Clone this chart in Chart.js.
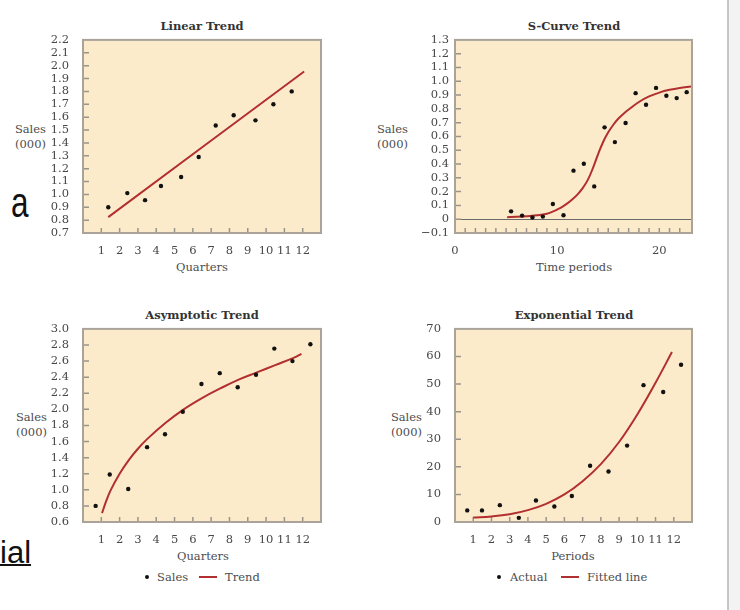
<!DOCTYPE html>
<html>
<head>
<meta charset="utf-8">
<script src="https://cdn.jsdelivr.net/npm/chart.js@4.4.1/dist/chart.umd.min.js"></script>
<style>
  body { margin: 0; background: #fff; }
  #page { position: relative; width: 740px; height: 610px; overflow: hidden; font-family: 'DejaVu Serif', serif; }
  #page div, #page span { position: absolute; white-space: nowrap; }
  canvas { position: absolute; }
  .title { font-weight: bold; font-size: 11.5px; color: #333; width: 200px; text-align: center; line-height: 14px; }
  .axis { font-size: 11.5px; color: #4d4d4d; width: 200px; text-align: center; line-height: 14px; }
  .ylab { font-size: 11.5px; color: #4d4d4d; width: 60px; text-align: right; line-height: 15px; }
  .leg { font-size: 11.5px; color: #4d4d4d; line-height: 14px; top: 570px; }
  .dot { width: 4px; height: 4px; border-radius: 2px; background: #111; top: 575px; }
  .swatch { width: 18px; height: 2px; background: #b22f2f; top: 576px; }
</style>
</head>
<body>
<div id="page">
  <div style="left:729px;top:0;width:11px;height:610px;background:#f3f3f3"></div>
  <div style="left:727px;top:0;width:2px;height:610px;background:#c6c6c6"></div>

  <div style="left:11px;top:182px;font-family:'Liberation Sans',sans-serif;font-size:42px;line-height:42px;color:#111;transform:scaleX(0.75);transform-origin:left top">a</div>
  <div style="left:0;top:537px;font-family:'Liberation Sans',sans-serif;font-size:31px;line-height:31px;color:#111;text-decoration:underline;text-decoration-thickness:2px">ial</div>

  <div class="title" style="left:102px;top:19px">Linear Trend</div>
  <div class="title" style="left:474px;top:19px">S-Curve Trend</div>
  <div class="title" style="left:102px;top:308px">Asymptotic Trend</div>
  <div class="title" style="left:474px;top:308px">Exponential Trend</div>

  <div class="ylab" style="left:-14px;top:122px">Sales<br>(000)</div>
  <div class="ylab" style="left:348px;top:122px">Sales<br>(000)</div>
  <div class="ylab" style="left:-13px;top:410px">Sales<br>(000)</div>
  <div class="ylab" style="left:362px;top:410px">Sales<br>(000)</div>

  <div class="axis" style="left:102px;top:260px">Quarters</div>
  <div class="axis" style="left:474px;top:260px">Time periods</div>
  <div class="axis" style="left:103px;top:549px">Quarters</div>
  <div class="axis" style="left:473px;top:549px">Periods</div>

  <span class="dot" style="left:145px"></span>
  <span class="leg" style="left:157px">Sales</span>
  <span class="swatch" style="left:199px"></span>
  <span class="leg" style="left:225px">Trend</span>

  <span class="dot" style="left:497px"></span>
  <span class="leg" style="left:510px">Actual</span>
  <span class="swatch" style="left:561px"></span>
  <span class="leg" style="left:587px">Fitted line</span>

  <canvas id="linearChart" width="290" height="232" style="left:43px;top:27px"></canvas>
  <canvas id="sCurveChart" width="289" height="232" style="left:415px;top:27px"></canvas>
  <canvas id="asymChart" width="290" height="232" style="left:43px;top:316px"></canvas>
  <canvas id="expChart" width="289" height="232" style="left:415px;top:316px"></canvas>
</div>

<script>
// Linear trend
const linearQuarter = [1.38, 2.42, 3.39, 4.26, 5.36, 6.32, 7.25, 8.23, 9.42, 10.40, 11.40];
const linearSales = [0.90, 1.01, 0.955, 1.065, 1.135, 1.29, 1.535, 1.615, 1.575, 1.70, 1.80];
const linearTrendX = [1.38, 12.08];
const linearTrendY = [0.823, 1.955];
const linearYTicks = [0.7, 0.8, 0.9, 1.0, 1.1, 1.2, 1.3, 1.4, 1.5, 1.6, 1.7, 1.8, 1.9, 2.0, 2.1, 2.2];

// S-curve trend
const sPeriod = [5.49, 6.57, 7.58, 8.60, 9.58, 10.62, 11.60, 12.61, 13.63, 14.64, 15.65, 16.70, 17.68, 18.70, 19.68, 20.69, 21.70, 22.68];
const sSales = [0.057, 0.026, 0.012, 0.019, 0.11, 0.029, 0.352, 0.402, 0.238, 0.666, 0.559, 0.697, 0.914, 0.83, 0.952, 0.895, 0.878, 0.921];
const sTrendX = [5.1, 6, 7, 8, 9, 9.5, 10, 10.5, 11, 11.5, 12, 12.5, 13, 13.5, 14, 14.5, 15, 15.5, 16, 16.5, 17, 18, 19, 20, 21, 22, 23.1];
const sTrendY = [0.015, 0.017, 0.021, 0.028, 0.04, 0.053, 0.07, 0.09, 0.115, 0.145, 0.18, 0.225, 0.285, 0.37, 0.47, 0.56, 0.63, 0.685, 0.73, 0.765, 0.795, 0.85, 0.89, 0.918, 0.938, 0.952, 0.962];
const sXTicks = [0, 1, 2, 3, 4, 5, 6, 7, 8, 9, 10, 11, 12, 13, 14, 15, 16, 17, 18, 19, 20, 21, 22];
const sYTicks = [-0.1, 0, 0.1, 0.2, 0.3, 0.4, 0.5, 0.6, 0.7, 0.8, 0.9, 1.0, 1.1, 1.2, 1.3];

// Asymptotic trend
const asymQuarter = [0.69, 1.46, 2.47, 3.50, 4.48, 5.45, 6.47, 7.47, 8.45, 9.45, 10.45, 11.44, 12.42];
const asymSales = [0.80, 1.19, 1.01, 1.53, 1.69, 1.97, 2.315, 2.45, 2.275, 2.43, 2.755, 2.60, 2.81];
const asymTrendX = [1.04, 1.25, 1.5, 2.0, 2.5, 3.0, 3.5, 4.5, 5.5, 6.5, 7.5, 8.5, 9.5, 10.5, 11.5, 11.93];
const asymTrendY = [0.71, 0.85, 0.99, 1.20, 1.37, 1.51, 1.63, 1.83, 2.00, 2.14, 2.26, 2.37, 2.46, 2.55, 2.64, 2.69];
const asymYTicks = [0.6, 0.8, 1.0, 1.2, 1.4, 1.6, 1.8, 2.0, 2.2, 2.4, 2.6, 2.8, 3.0];

// Exponential trend
const expPeriod = [0.67, 1.48, 2.46, 3.50, 4.44, 5.45, 6.41, 7.41, 8.42, 9.44, 10.34, 11.42, 12.40];
const expActual = [4.2, 4.2, 6.1, 1.5, 7.8, 5.6, 9.4, 20.4, 18.3, 27.7, 49.6, 47.1, 57.0];
const expFitX = [1, 2, 3, 4, 5, 6, 7, 8, 9, 10, 11, 11.9];
const expFitY = [1.6, 2.0, 2.8, 4.3, 6.6, 10.0, 14.8, 21.0, 29.0, 39.0, 50.5, 61.6];
const expYTicks = [0, 10, 20, 30, 40, 50, 60, 70];

const quarterTicks = [1, 2, 3, 4, 5, 6, 7, 8, 9, 10, 11, 12];

const RED = '#b22f2f';
const CREAM = '#fcebcb';
const FRAME = '#a9a39a';
const TICK_MARK = '#9a948a';
const TICK_TEXT = '#474747';
const tickFont = { family: 'DejaVu Serif', size: 11.5 };

function pts(xs, ys) {
    return xs.map((x, i) => ({ x: x, y: ys[i] }));
}

// cream plot area, inward tick marks and the grey frame
const framePlugin = {
    id: 'frame',
    beforeDraw(chart) {
        const { ctx, chartArea: a } = chart;
        ctx.save();
        ctx.fillStyle = CREAM;
        ctx.fillRect(a.left, a.top, a.width, a.height);
        ctx.restore();
    },
    beforeDatasetsDraw(chart) {
        const { ctx, chartArea: a, scales } = chart;
        ctx.save();
        ctx.strokeStyle = TICK_MARK;
        ctx.lineWidth = 1.5;
        ctx.beginPath();
        scales.x.ticks.forEach(t => {
            const px = scales.x.getPixelForValue(t.value);
            if (px <= a.left + 1 || px >= a.right - 1) return;
            ctx.moveTo(px, a.bottom);
            ctx.lineTo(px, a.bottom - 5);
        });
        scales.y.ticks.forEach(t => {
            const py = scales.y.getPixelForValue(t.value);
            if (py <= a.top + 1 || py >= a.bottom - 1) return;
            ctx.moveTo(a.left, py);
            ctx.lineTo(a.left + 6, py);
        });
        ctx.stroke();
        ctx.strokeStyle = FRAME;
        ctx.lineWidth = 2;
        ctx.strokeRect(a.left, a.top, a.width, a.height);
        ctx.restore();
    }
};

function makePanel(canvasId, p) {
    const ctx = document.getElementById(canvasId).getContext('2d');
    return new Chart(ctx, {
        type: 'scatter',
        data: {
            datasets: [{
                label: p.pointLabel,
                data: pts(p.px, p.py),
                pointRadius: 2.2,
                pointBackgroundColor: '#111',
                pointBorderWidth: 0,
                order: 0
            }, {
                label: p.lineLabel,
                data: pts(p.lx, p.ly),
                showLine: true,
                borderColor: RED,
                borderWidth: 2,
                pointRadius: 0,
                tension: 0.4,
                order: 1
            }]
        },
        options: {
            responsive: false,
            animation: false,
            layout: { padding: { top: 10, right: 12, left: 0, bottom: 0 }, autoPadding: false },
            plugins: { legend: { display: false }, tooltip: { enabled: false } },
            scales: {
                x: {
                    type: 'linear',
                    min: p.xMin,
                    max: p.xMax,
                    grid: { display: false },
                    border: { display: false },
                    afterBuildTicks: s => { s.ticks = p.xTicks.map(v => ({ value: v })); },
                    afterFit: s => { s.height = 26; },
                    ticks: {
                        autoSkip: false,
                        maxRotation: 0,
                        padding: 3,
                        color: TICK_TEXT,
                        font: tickFont,
                        callback: p.xFmt
                    }
                },
                y: {
                    type: 'linear',
                    min: p.yMin,
                    max: p.yMax,
                    grid: p.zeroLine
                        ? { drawTicks: false, lineWidth: 1, color: c => c.tick && c.tick.value === 0 ? '#6a6a6a' : 'rgba(0,0,0,0)' }
                        : { display: false },
                    border: { display: false },
                    afterBuildTicks: s => { s.ticks = p.yTicks.map(v => ({ value: v })); },
                    afterFit: s => { s.width = 40; },
                    ticks: {
                        autoSkip: false,
                        padding: 6,
                        color: TICK_TEXT,
                        font: tickFont,
                        callback: p.yFmt
                    }
                }
            }
        },
        plugins: [framePlugin]
    });
}

const oneDecimal = v => v.toFixed(1);
const plainInt = v => String(v);

makePanel('linearChart', {
    pointLabel: 'Sales', lineLabel: 'Trend',
    px: linearQuarter, py: linearSales, lx: linearTrendX, ly: linearTrendY,
    xMin: 0, xMax: 13, xTicks: quarterTicks, xFmt: plainInt,
    yMin: 0.7, yMax: 2.2, yTicks: linearYTicks, yFmt: oneDecimal
});

makePanel('sCurveChart', {
    pointLabel: 'Sales', lineLabel: 'Trend',
    px: sPeriod, py: sSales, lx: sTrendX, ly: sTrendY,
    xMin: 0, xMax: 23.2, xTicks: sXTicks, xFmt: v => (v % 10 === 0 ? String(v) : ''),
    yMin: -0.1, yMax: 1.3, yTicks: sYTicks,
    yFmt: v => (Math.abs(v) < 1e-9 ? '0' : (v < 0 ? '\u2212' : '') + Math.abs(v).toFixed(1)),
    zeroLine: true
});

makePanel('asymChart', {
    pointLabel: 'Sales', lineLabel: 'Trend',
    px: asymQuarter, py: asymSales, lx: asymTrendX, ly: asymTrendY,
    xMin: 0, xMax: 13, xTicks: quarterTicks, xFmt: plainInt,
    yMin: 0.6, yMax: 3.0, yTicks: asymYTicks, yFmt: oneDecimal
});

makePanel('expChart', {
    pointLabel: 'Actual', lineLabel: 'Fitted line',
    px: expPeriod, py: expActual, lx: expFitX, ly: expFitY,
    xMin: 0, xMax: 13, xTicks: quarterTicks, xFmt: plainInt,
    yMin: 0, yMax: 70, yTicks: expYTicks, yFmt: plainInt
});
</script>
</body>
</html>
